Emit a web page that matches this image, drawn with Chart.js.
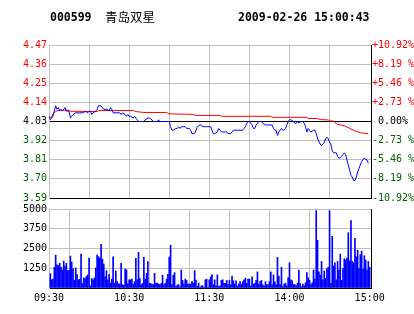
<!DOCTYPE html>
<html lang="zh-CN">
<head>
<meta charset="UTF-8" />
<title>000599 青岛双星</title>
<script src="https://cdn.jsdelivr.net/npm/chart.js"></script>
<style>
  body { margin: 0; background: #fff; width: 414px; height: 314px; position: relative; overflow: hidden; }
  .hdr { position: absolute; top: 9px; font-family: "DejaVu Sans Mono", monospace; font-size: 11.5px; font-weight: bold; line-height: 16px; white-space: pre; color: #000; }
  .name { font-family: "Noto Sans CJK SC", sans-serif; font-weight: normal; font-size: 12.5px; }
  #priceBox { position: absolute; left: 0; top: 0; width: 414px; height: 206px; }
  #volBox { position: absolute; left: 0; top: 200px; width: 414px; height: 114px; }
</style>
</head>
<body>
  <div id="priceBox"><canvas id="priceChart"></canvas></div>
  <div id="volBox"><canvas id="volChart"></canvas></div>
  <div class="hdr" style="left:50px">000599</div>
  <div class="hdr name" style="left:105px">青岛双星</div>
  <div class="hdr" style="left:238px">2009-02-26 15:00:43</div>

<script>
// previous close and axis range
const prevClose = 4.03;
const priceMin = 3.59, priceMax = 4.47, priceStep = 0.11;
const volMax = 5000, volStep = 1250;

// minutes since 09:30 (lunch break removed)
const labelMinutes = [0, 60, 120, 180, 240];
const labelTexts = ['09:30', '10:30', '11:30', '14:00', '15:00'];

// last price (blue)
const priceMinutes = [0,1,2,3,5,6,7,8,9,10,11,12,13,15,16,17,18,20,21,23,26,27,29,30,31,32,33,35,36,37,39,40,41,42,44,45,46,47,48,51,53,54,55,57,58,59,60,61,63,64,66,67,71,72,74,75,77,78,81,82,83,90,91,92,93,95,96,97,98,99,101,102,103,105,106,107,109,110,111,113,114,115,117,118,120,
  121,123,124,126,127,128,129,130,132,133,134,136,137,138,141,145,146,147,148,149,150,151,152,153,154,155,156,157,158,159,160,162,167,168,169,170,171,172,173,174,175,176,177,178,179,180,181,183,184,185,186,187,188,190,191,192,193,194,195,196,198,199,200,201,203,204,205,206,207,208,209,210,211,212,213,215,216,217,218,219,220,221,222,223,224,225,226,227,228,229,230,231,232,233,234,235,236,237,238,239];
const prices = [4.06,4.04,4.05,4.06,4.12,4.10,4.11,4.09,4.10,4.09,4.10,4.11,4.09,4.09,4.05,4.06,4.07,4.08,4.08,4.08,4.08,4.09,4.08,4.09,4.09,4.07,4.08,4.09,4.10,4.12,4.12,4.11,4.10,4.10,4.10,4.09,4.11,4.10,4.08,4.08,4.08,4.07,4.08,4.07,4.06,4.07,4.06,4.06,4.05,4.06,4.04,4.03,4.03,4.04,4.05,4.05,4.04,4.03,4.03,4.04,4.03,4.03,4.00,3.98,3.98,3.99,3.99,4.00,3.99,4.00,4.00,4.00,3.99,3.99,3.98,3.96,3.96,3.98,4.00,4.01,4.01,4.00,4.00,4.00,4.00,
  4.00,3.96,3.96,3.97,3.99,3.98,3.97,3.97,3.97,3.97,3.96,3.96,3.97,3.98,3.98,3.98,3.99,4.00,4.02,4.03,4.03,4.02,4.01,3.99,3.99,4.01,4.02,4.03,4.03,4.03,4.02,4.01,4.01,3.99,3.98,3.98,3.95,3.97,3.98,3.99,3.98,3.98,3.99,4.01,4.03,4.04,4.04,4.03,4.02,4.02,4.03,4.02,4.03,4.03,4.02,4.00,3.97,3.99,3.98,3.97,3.98,3.98,3.96,3.93,3.90,3.89,3.90,3.91,3.93,3.94,3.93,3.91,3.90,3.86,3.85,3.85,3.83,3.82,3.82,3.83,3.84,3.85,3.84,3.81,3.78,3.75,3.72,3.71,3.69,3.69,3.71,3.74,3.76,3.78,3.80,3.81,3.82,3.81,3.81,3.79];

// average price (red)
const avgMinutes = [0,2,3,5,6,8,15,16,36,37,63,65,71,88,90,108,110,128,129,166,167,193,194,201,203,209,210,213,214,216,221,225,229,233,238,239];
const avgPrices = [4.056,4.054,4.074,4.087,4.091,4.095,4.095,4.089,4.087,4.093,4.093,4.087,4.082,4.082,4.074,4.071,4.065,4.065,4.060,4.060,4.054,4.054,4.047,4.047,4.041,4.039,4.034,4.032,4.024,4.013,4.006,3.991,3.976,3.965,3.961,3.958];

// volume per minute, minute 1..240
const volumes = [900,520,560,1310,2080,1460,1420,1560,1310,1140,1700,1390,1560,1100,1120,2020,1640,1220,480,1270,850,520,560,2145,270,640,600,730,830,1895,140,600,520,640,1270,2080,1980,1895,2770,1830,1520,730,1100,520,850,310,560,1980,310,1080,400,270,250,1560,210,170,1200,1140,270,520,520,560,250,400,1870,520,2250,600,210,290,1935,560,930,1680,290,290,250,210,930,290,
  310,250,210,290,810,210,290,560,870,1955,2705,210,810,970,100,190,210,80,1140,480,250,560,480,250,250,250,400,310,1100,500,100,310,40,140,140,40,520,560,40,520,700,830,210,520,140,830,100,140,480,520,290,290,480,210,480,210,750,460,250,460,120,250,400,210,400,520,620,290,560,560,120,700,250,290,480,1020,250,400,480,210,
  120,
  400,210,210,400,1020,210,830,400,210,1935,750,210,1310,80,250,310,140,640,1600,520,460,210,210,140,310,1140,290,80,250,140,330,970,640,480,210,330,1140,560,4900,3020,1020,810,1680,520,1080,600,1230,1310,4900,310,3270,1390,1600,520,1680,1140,2145,480,1230,1850,1770,1895,3500,1720,4270,1680,1600,3145,1980,2395,1230,2105,2330,1200,2040,1770,1140,1680,1310];

const GRID = '#c0c0c0';
const UP = '#ff0000', DOWN = '#006000';
const tickFont = { family: 'DejaVu Sans Mono', size: 10 };

function isBase(v) { return Math.abs(v - prevClose) < 1e-6; }
function priceColor(ctx) {
  const v = ctx.tick.value;
  if (isBase(v)) return '#000';
  return v > prevClose ? UP : DOWN;
}
function pctLabel(v) {
  const p = (v - prevClose) / prevClose * 100;
  if (Math.abs(p) < 0.005) return ' 0.00%';
  return (p > 0 ? '+' : '-') + Math.abs(p).toFixed(2).padEnd(5, ' ') + '%';
}
function timeGrid(ctx) {
  return ctx.tick && ctx.tick.value === 240 ? 'rgba(0,0,0,0)' : GRID;
}

const pricePts = priceMinutes.map((m, i) => ({ x: m, y: prices[i] }));
const avgPts = avgMinutes.map((m, i) => ({ x: m, y: avgPrices[i] }));
const volPts = volumes.map((v, i) => ({ x: i + 1, y: v }));

new Chart(document.getElementById('priceChart'), {
  type: 'line',
  data: {
    datasets: [
      { data: pricePts, borderColor: '#0000ff', borderWidth: 1, pointRadius: 0, tension: 0 },
      { data: avgPts, borderColor: '#ff0000', borderWidth: 1, pointRadius: 0, tension: 0 }
    ]
  },
  options: {
    responsive: true,
    maintainAspectRatio: false,
    animation: false,
    layout: { padding: { top: 45, bottom: 3, left: 0, right: 0 } },
    plugins: { legend: { display: false }, tooltip: { enabled: false } },
    scales: {
      x: {
        type: 'linear', min: 0, max: 241,
        ticks: { display: false, stepSize: 30, includeBounds: false },
        grid: { color: timeGrid, drawTicks: false },
        border: { color: '#000' },
        afterFit: s => { s.height = 0; }
      },
      y: {
        position: 'left', min: priceMin, max: priceMax,
        ticks: { stepSize: priceStep, color: priceColor, font: tickFont, padding: 2, callback: v => v.toFixed(2) },
        grid: { color: ctx => isBase(ctx.tick.value) ? '#000' : GRID, drawTicks: false },
        border: { color: GRID },
        afterFit: s => { s.width = 49; }
      },
      y2: {
        position: 'right', min: priceMin, max: priceMax,
        ticks: { stepSize: priceStep, color: priceColor, font: tickFont, padding: 1, callback: pctLabel },
        grid: { display: false, drawTicks: false, tickLength: 0 },
        border: { color: '#000' },
        afterFit: s => { s.width = 43; }
      }
    }
  }
});

new Chart(document.getElementById('volChart'), {
  type: 'bar',
  data: {
    datasets: [{ data: volPts, backgroundColor: '#0000ff', borderWidth: 0, barThickness: 1 }]
  },
  options: {
    responsive: true,
    maintainAspectRatio: false,
    animation: false,
    layout: { padding: { top: 9, bottom: 0, left: 0, right: 0 } },
    plugins: { legend: { display: false }, tooltip: { enabled: false } },
    scales: {
      x: {
        type: 'linear', min: 0, max: 241, offset: false,
        ticks: {
          stepSize: 30, includeBounds: false, autoSkip: false, maxRotation: 0,
          color: '#000', font: tickFont, padding: 4,
          callback: v => { const k = labelMinutes.indexOf(v); return k >= 0 ? labelTexts[k] : ''; }
        },
        grid: { color: timeGrid, drawTicks: false },
        border: { color: '#000' },
        afterFit: s => { s.height = 26; }
      },
      y: {
        position: 'left', min: 0, max: volMax,
        ticks: { stepSize: volStep, color: '#000', font: tickFont, padding: 2, callback: v => v === 0 ? '' : String(v) },
        grid: { color: GRID, drawTicks: false },
        border: { color: GRID },
        afterFit: s => { s.width = 49; }
      },
      y2: {
        position: 'right', min: 0, max: volMax,
        ticks: { display: false },
        grid: { display: false, drawTicks: false, tickLength: 0 },
        border: { color: '#000' },
        afterFit: s => { s.width = 43; }
      }
    }
  }
});
</script>
</body>
</html>
